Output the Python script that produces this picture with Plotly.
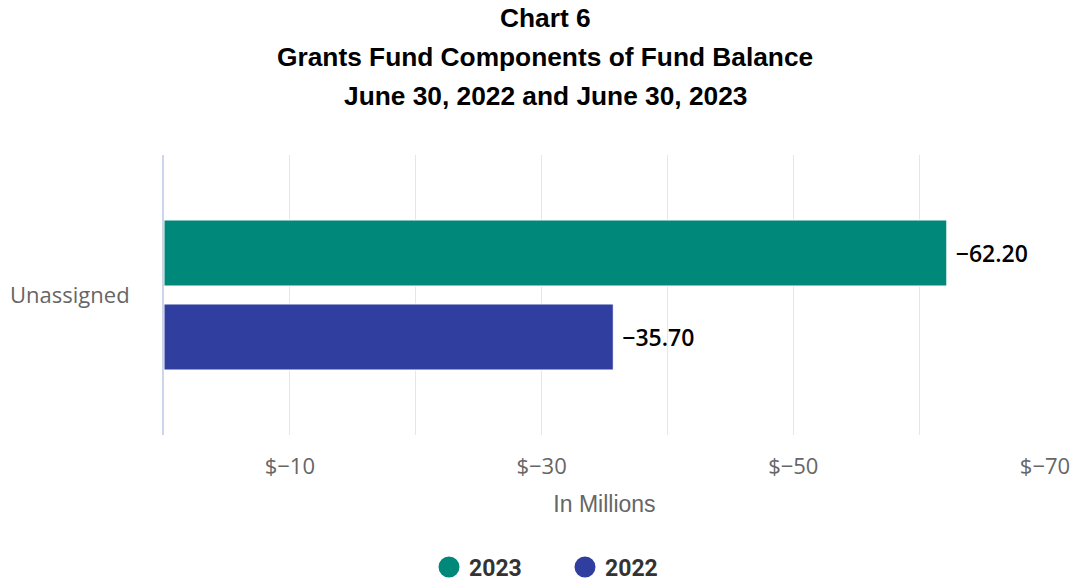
import plotly.graph_objects as go

categories = ["Unassigned"]
series_names = ["2023", "2022"]
values_2023 = [-62.20]
values_2022 = [-35.70]
colors = ["#00897b", "#303f9f"]
tick_values = [-10, -30, -50, -70]
tick_labels = ["$\u221210", "$\u221230", "$\u221250", "$\u221270"]
minor_grid_values = [-20, -40, -60]
title_lines = ["Chart 6", "Grants Fund Components of Fund Balance", "June 30, 2022 and June 30, 2023"]


def label(v):
    return "\u00a0\u2212%.2f" % abs(v) if v < 0 else "\u00a0%.2f" % v


fig = go.Figure()
for name, vals, col in zip(series_names, [values_2023, values_2022], colors):
    fig.add_trace(go.Bar(
        y=categories, x=vals, orientation="h", name=name,
        marker=dict(color=col, line=dict(color="white", width=1)),
        text=[label(v) for v in vals], texttemplate="%{text}", textposition="outside",
        textfont=dict(family="Open Sans", size=23, color="#000000", weight=600),
        cliponaxis=False, showlegend=False, hoverinfo="x+name",
    ))
for name, col in zip(series_names, colors):
    fig.add_trace(go.Scatter(
        x=[None], y=[None], mode="markers", name=name,
        marker=dict(color=col, size=16, symbol="circle", line=dict(color=col, width=8)),
    ))

title_y = [1.489, 1.35, 1.211]
for t, yy in zip(title_lines, title_y):
    fig.add_annotation(
        text="<b>%s</b>" % t, xref="paper", yref="paper",
        x=(545 - 164) / 881, y=yy, xanchor="center", yanchor="middle",
        showarrow=False, font=dict(family="Liberation Sans", size=26.3, color="#000000"),
    )

fig.update_layout(
    width=1075, height=581,
    margin=dict(l=164, r=30, t=155, b=146, autoexpand=False),
    paper_bgcolor="white", plot_bgcolor="white",
    barmode="group", bargap=0.4, bargroupgap=0.214,
    legend=dict(
        orientation="h", xref="container", yref="container",
        x=(459 - 30) / 1075, y=0.024, xanchor="left", yanchor="middle",
        font=dict(family="Roboto", size=23, color="#333333", weight="bold"),
        itemsizing="trace", entrywidth=91,
    ),
    xaxis=dict(
        range=[0, -70], tickmode="array", tickvals=tick_values, ticktext=tick_labels,
        showgrid=True, gridcolor="#e6e6e6", gridwidth=1, zeroline=False,
        minor=dict(tickvals=minor_grid_values, showgrid=True, gridcolor="#e6e6e6", gridwidth=1),
        tickfont=dict(family="Open Sans", size=22, color="#666666"),
        ticklabelstandoff=16, automargin=False,
        title=dict(text="In Millions", standoff=16,
                   font=dict(family="Liberation Sans", size=23, color="#666666")),
        fixedrange=True,
    ),
    yaxis=dict(
        autorange="reversed", showline=True, linecolor="#ccd6eb", linewidth=2,
        showgrid=False, zeroline=False, automargin=False,
        tickfont=dict(family="Open Sans", size=22, color="#666666"),
        ticklabelstandoff=28, fixedrange=True,
    ),
)

fig.write_html("out.html")
